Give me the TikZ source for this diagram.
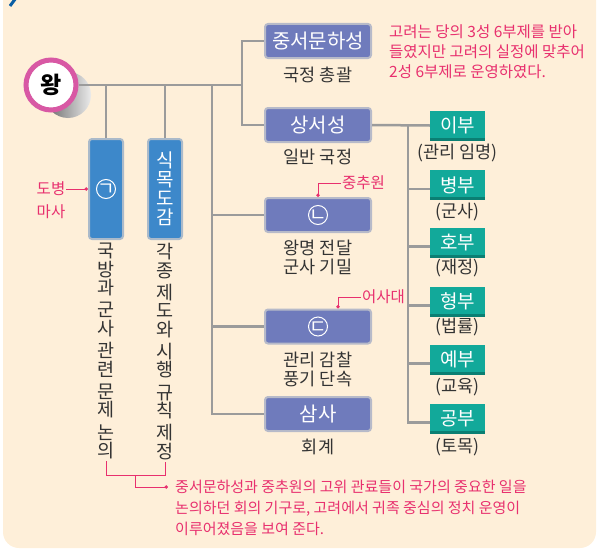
\documentclass[tikz,border=0pt]{standalone}
\usepackage{fontspec}
\setmainfont{Noto Sans CJK KR}
\usetikzlibrary{positioning, calc, arrows.meta}
\definecolor{cream}{HTML}{FEEFD9}
\definecolor{linegray}{HTML}{9B9B9B}
\definecolor{officefill}{HTML}{6F7BBC}
\definecolor{officeline}{HTML}{B7BAC9}
\definecolor{councilfill}{HTML}{3D88CA}
\definecolor{councilline}{HTML}{ABBACA}
\definecolor{ministryfill}{HTML}{12A99A}
\definecolor{ministrydark}{HTML}{0B7F73}
\definecolor{remarkpink}{HTML}{E8306E}
\definecolor{kingring}{HTML}{D858A4}
\definecolor{darktext}{HTML}{333333}
\definecolor{markblue}{HTML}{0B5FA5}
\newcommand{\jamotext}[1]{\makebox[0pt]{\raisebox{-0.36em}[0pt][0pt]{#1}}}
\tikzset{
	king/.style={draw=kingring, circle, line width=5pt, fill=white, minimum size=50pt, inner sep=0pt, font=\fontsize{23}{23}\selectfont\bfseries},
	office/.style={draw=officeline, line width=2pt, rounded corners=3pt, fill=officefill, text=white, minimum width=106pt, minimum height=34pt, inner sep=0pt, font=\fontsize{20}{20}\selectfont},
	council/.style={draw=councilline, line width=2pt, rounded corners=3pt, fill=councilfill, text=white, minimum width=34pt, minimum height=100pt, inner sep=0pt, align=center, font=\fontsize{19}{19}\selectfont},
	ministry/.style={fill=ministryfill, text=white, minimum width=55pt, minimum height=30pt, inner sep=0pt, font=\fontsize{19}{19}\selectfont,
		path picture={\fill[ministrydark] (path picture bounding box.south west) rectangle ([yshift=3pt]path picture bounding box.south east);}},
	jamo/.style={circle, draw=white, line width=1pt, text=white, inner sep=0pt, minimum size=19pt, font=\fontsize{19}{19}\selectfont},
	% black texts under the boxes
	duty/.style={text=darktext, inner sep=0pt, align=center, font=\fontsize{17.5}{19}\selectfont},
	vduty/.style={text=darktext, inner sep=0pt, align=center, font=\fontsize{18.5}{18.5}\selectfont},
	remark/.style={text=remarkpink, inner sep=1pt, align=left, font=\fontsize{15.5}{20}\selectfont},
	link/.style={draw=linegray, line width=2.5pt},
	pointer/.style={draw=remarkpink, line width=1pt, -{Circle[length=3.5pt]}},
}
\begin{document}
\begin{tikzpicture}[x=1pt, y=-1pt]
	\useasboundingbox (0,0) rectangle (601,551);
	\fill[cream, rounded corners=16pt] (3,-20) rectangle (596,548);
	\draw[markblue, line width=3pt] (10,6) -- (16,-2);
	
	%\shade for the shadow of the king
	\shade[left color=black!60, right color=black!8] (68,95) circle (23);
	
	\coordinate (top) at (242,85);
	\coordinate (mid) at (212,85);
	\coordinate (bu) at (408,126);
	
	\node (jungseo) [office] at (318,41) {중서문하성};
	\node (jungseo-duty) [duty] at (318,75) {국정 총괄};
	\node (sangseo) [office] at (318,125) {상서성};
	\node (sangseo-duty) [duty] at (318,157) {일반 국정};
	\node (boxL) [office] at (318,215) {};
	\node (jamoL) [jamo] at (boxL) {\jamotext{ㄴ}};
	\node (boxL-duty) [duty] at (318,257.5) {왕명 전달\\군사 기밀};
	\node (boxD) [office] at (318,326.5) {};
	\node (jamoD) [jamo] at (boxD) {\jamotext{ㄷ}};
	\node (boxD-duty) [duty] at (318,369) {관리 감찰\\풍기 단속};
	\node (samsa) [office] at (318,414) {삼사};
	\node (samsa-duty) [duty] at (318,447) {회계};
	
	\node (councilA) [council] at (106,189) {};
	\node (jamoA) [jamo] at (councilA) {\jamotext{ㄱ}};
	\node (councilB) [council] at (165,189) {식\\목\\도\\감};
	\node (dutyA) [vduty, anchor=north] at (106,243) {국\\방\\과\\[3.7pt]군\\사\\[3.7pt]관\\련\\[3.7pt]문\\제\\[3.7pt]논\\의};
	\node (dutyB) [vduty, anchor=north] at (165,243) {각\\종\\[3.7pt]제\\도\\와\\[3.7pt]시\\행\\[3.7pt]규\\칙\\[3.7pt]제\\정};
	
	\node (ibu) [ministry] at (457.5,125.5) {이부};
	\node (ibu-duty) [duty] at (457.5,153) {(관리 임명)};
	\node (byeongbu) [ministry] at (457.5,185) {병부};
	\node (byeongbu-duty) [duty] at (457.5,212) {(군사)};
	\node (hobu) [ministry] at (457.5,242.5) {호부};
	\node (hobu-duty) [duty] at (457.5,268) {(재정)};
	\node (hyeongbu) [ministry] at (457.5,301.5) {형부};
	\node (hyeongbu-duty) [duty] at (457.5,327) {(법률)};
	\node (yebu) [ministry] at (457.5,359.5) {예부};
	\node (yebu-duty) [duty] at (457.5,387) {(교육)};
	\node (gongbu) [ministry] at (457.5,418.5) {공부};
	\node (gongbu-duty) [duty] at (457.5,447) {(토목)};
	
	\node (note) [remark, anchor=west] at (388,52) {고려는 당의 3성 6부제를 받아\\들였지만 고려의 실정에 맞추어\\2성 6부제로 운영하였다.};
	\node (jcw) [remark, anchor=west] at (341,183) {중추원};
	\node (esd) [remark, anchor=west] at (361,297) {어사대};
	\node (dbm) [remark, align=center, font=\fontsize{15.5}{23}\selectfont] at (51,200.5) {도병\\마사};
	\node (meeting) [remark, anchor=west, font=\fontsize{15}{21}\selectfont] at (174,508) {중서문하성과 중추원의 고위 관료들이 국가의 중요한 일을\\논의하던 회의 기구로, 고려에서 귀족 중심의 정치 운영이\\이루어졌음을 보여 준다.};
	\coordinate (meetdot) at (168,487);
	
	\begin{scope}[link]
		\draw (mid) -- (top);
		\foreach \b in {jungseo, sangseo}
			\draw (top) |- (\b.west);
		\foreach \b in {boxL, boxD, samsa}
			\draw (mid) |- (\b.west);
		\draw (councilA.north) -- (councilA.north |- top);
		\draw (councilB.north) -- (councilB.north |- top);
		\draw (sangseo.east) -- (ibu.west);
		\foreach \b in {byeongbu, hobu, hyeongbu, yebu, gongbu}
			\draw (bu) |- ([yshift=-4pt]\b.west);
	\end{scope}
	
	\node (wang) [king] at (51,85) {왕};
	\draw[link] (wang.east) -- (mid);
	
	\begin{scope}[remarkpink, line width=1pt]
		\draw[pointer] (jcw.west) -| (boxL.north);
		\draw[pointer] (esd.west) -| ([xshift=20pt]boxD.north);
		\draw[pointer] (dbm.east |- councilA.west) -- (councilA.west);
		\draw ([yshift=-2pt]dutyA.south) -- ++(0,14) coordinate (bl) -| ([yshift=-2pt]dutyB.south);
		\draw[pointer] ($(bl)!0.5!(bl -| dutyB.south)$) |- (meetdot);
	\end{scope}
\end{tikzpicture}
\end{document}
